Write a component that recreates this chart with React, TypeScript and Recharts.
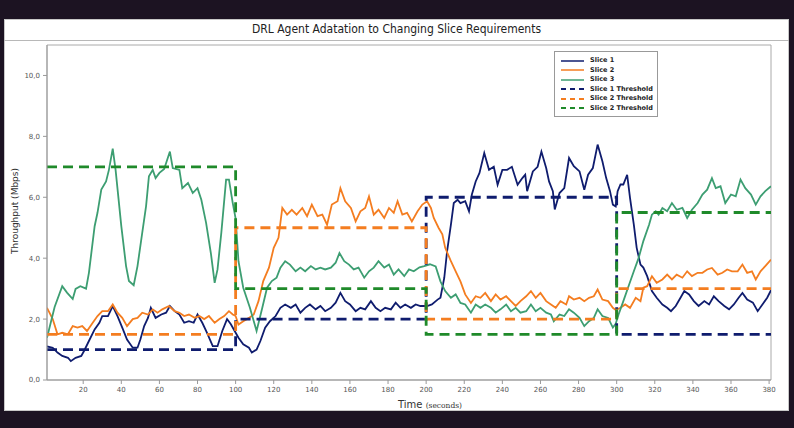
import React from 'react';
import { LineChart, Line, XAxis, YAxis, ReferenceArea } from 'recharts';

// [time (s), throughput (Mbps)]
const slice1: [number, number][] = [
  [1, 1.1], [4, 1.06], [6.5, 0.9], [9, 0.79], [12, 0.73], [13.5, 0.62], [16, 0.73], [19, 0.79], [20.5, 0.96],
  [23, 1.28], [26, 1.66], [28.5, 1.88], [30, 2.1], [33, 2.1], [35.5, 2.43], [38, 2.1], [40.5, 1.72], [43, 1.33],
  [46, 1.06], [48.5, 1.06], [50, 1.33], [52, 1.77], [54, 2.04], [55.5, 2.37], [58, 2.04], [61, 2.15], [63.5, 2.21],
  [65.5, 2.43], [68, 2.26], [70.5, 2.15], [73, 1.88], [75.5, 1.93], [78, 1.88], [80, 2.15], [82.5, 1.88], [85, 1.55],
  [88, 1.11], [90.5, 1.11], [93, 1.61], [95.5, 2.0], [97.5, 1.83], [99.5, 1.61], [101.5, 1.39], [104, 1.17],
  [107, 1.06], [108.5, 0.9], [111, 1.0], [113, 1.28], [115.5, 1.72], [118, 1.93], [121, 2.1], [123.5, 2.37],
  [126, 2.48], [129, 2.37], [131.5, 2.48], [134, 2.21], [136.5, 2.37], [139, 2.48], [142, 2.32], [144.5, 2.43],
  [147, 2.26], [150, 2.37], [152.5, 2.54], [155, 2.86], [157.5, 2.59], [160, 2.48], [163, 2.26], [165.5, 2.37],
  [168, 2.32], [171, 2.59], [173.5, 2.37], [176, 2.26], [178.5, 2.37], [181.5, 2.32], [184, 2.54], [186.5, 2.37],
  [189, 2.48], [192, 2.37], [194.5, 2.48], [197, 2.43], [200.5, 2.43], [203, 2.48], [206, 2.64], [207.5, 2.7],
  [209.5, 3.35], [211, 4.23], [213, 5.1], [214.5, 5.81], [216.5, 5.92], [218, 5.81], [220.5, 5.87], [222.5, 5.54],
  [224, 6.09], [226, 6.52], [228, 6.8], [230.5, 7.45], [233, 6.9], [235.5, 7.0], [237.5, 6.41], [240, 6.9],
  [242.5, 6.9], [245, 7.0], [248, 6.41], [250.5, 6.63], [252, 6.74], [253, 6.2], [256, 6.85], [258.5, 7.0],
  [260.5, 7.5], [263, 6.96], [264.5, 6.52], [266.5, 6.2], [267.5, 5.6], [270, 6.14], [272.5, 6.3], [275, 7.29],
  [277.5, 7.02], [280.5, 6.85], [283, 6.25], [285, 6.74], [287.5, 6.96], [290, 7.73], [292.5, 7.18], [294.5, 6.63],
  [296.5, 6.2], [298, 5.76], [299.5, 5.7], [300.5, 6.2], [302, 6.42], [303.5, 6.42], [305.5, 6.74], [307, 5.98],
  [309, 5.1], [310.5, 4.34], [312.5, 3.79], [314, 3.69], [316, 3.41], [318.5, 2.92], [321, 2.7], [324, 2.48],
  [326.5, 2.37], [328.5, 2.26], [331, 2.43], [333.5, 2.7], [335.5, 2.92], [338, 2.81], [340.5, 2.59], [343, 2.43],
  [346, 2.59], [348.5, 2.48], [351, 2.75], [353.5, 2.59], [356.5, 2.43], [359, 2.32], [361.5, 2.48], [364, 2.7],
  [366, 2.86], [368.5, 2.64], [371.5, 2.54], [374, 2.26], [376.5, 2.48], [379, 2.7], [381, 2.95],
];

const slice2: [number, number][] = [
  [1, 2.37], [4, 2.0], [6.5, 1.5], [9, 1.55], [12, 1.5], [14.5, 1.77], [17, 1.72], [19.5, 1.77], [22, 1.61],
  [25, 1.88], [27.5, 2.1], [30, 2.26], [33, 2.26], [35.5, 2.48], [38, 2.21], [40.5, 2.04], [43, 1.77], [46, 2.0],
  [48.5, 2.04], [51, 2.21], [54, 2.15], [56.5, 2.32], [59, 2.21], [61.5, 2.32], [65, 2.43], [68, 2.26], [70.5, 2.21],
  [73, 2.1], [75.5, 2.15], [78.5, 2.04], [81, 2.1], [83.5, 2.0], [86, 2.1], [89, 1.88], [91.5, 2.0], [94, 2.1],
  [96.5, 2.26], [98.5, 2.15], [100, 2.1], [101.5, 1.82], [104, 1.93], [107, 2.04], [109.5, 2.15], [112, 2.59],
  [114.5, 3.25], [117.5, 3.69], [120, 4.34], [122.5, 4.67], [124.5, 5.65], [127, 5.43], [129.5, 5.59], [132, 5.43],
  [135, 5.65], [137.5, 5.38], [140, 5.76], [143, 5.38], [145.5, 5.43], [148, 5.1], [150.5, 5.76], [153.5, 5.87],
  [155, 6.3], [157.5, 5.87], [160.5, 5.65], [163, 5.21], [165.5, 5.54], [168, 5.65], [170, 6.03], [172.5, 5.43],
  [175, 5.59], [178, 5.32], [180.5, 5.65], [183, 5.49], [185, 5.87], [187.5, 5.43], [190, 5.49], [192.5, 5.21],
  [195.5, 5.54], [198, 5.76], [200.5, 5.87], [202.5, 5.65], [204, 5.32], [206.5, 5.0], [208.5, 4.78], [210, 4.34],
  [213, 3.9], [215.5, 3.57], [218, 3.24], [220.5, 2.81], [223.5, 2.53], [226, 2.75], [228.5, 2.7], [231, 2.86],
  [234, 2.59], [236.5, 2.81], [239, 2.64], [242, 2.75], [244.5, 2.59], [247, 2.43], [249.5, 2.59], [252.5, 2.75],
  [255, 2.92], [257.5, 2.7], [260, 2.86], [263, 2.59], [265.5, 2.48], [268, 2.37], [270.5, 2.59], [273.5, 2.48],
  [275, 2.75], [277.5, 2.64], [280.5, 2.7], [283, 2.59], [285.5, 2.7], [288, 2.75], [290, 2.97], [292.5, 2.64],
  [295.5, 2.59], [298, 2.37], [299.5, 2.3], [302, 2.37], [304.5, 2.48], [307, 2.37], [310, 2.7], [312.5, 2.59],
  [314, 3.03], [316, 3.08], [318.5, 3.41], [321, 3.19], [324, 3.3], [326.5, 3.46], [329, 3.3], [331.5, 3.46],
  [334.5, 3.36], [337, 3.57], [339.5, 3.41], [342.5, 3.52], [345, 3.52], [347.5, 3.63], [350, 3.68], [353, 3.46],
  [355.5, 3.52], [358, 3.63], [360.5, 3.57], [363.5, 3.57], [366, 3.79], [368.5, 3.52], [371, 3.57], [373, 3.3],
  [375.5, 3.57], [378, 3.74], [381, 3.95],
];

const slice3: [number, number][] = [
  [1, 1.39], [5, 2.4], [9, 3.08], [11.5, 2.87], [14.5, 2.66], [16, 2.99], [18.5, 3.08], [21.5, 3.0], [23, 3.52],
  [26, 5.05], [27.5, 5.49], [29.5, 6.25], [32, 6.52], [33.5, 6.9], [35.5, 7.6], [37, 6.9], [40, 5.05], [42.5, 3.74],
  [44, 3.25], [46.5, 3.11], [48.5, 3.74], [51, 4.84], [53, 5.71], [54.5, 6.69], [56.5, 6.9], [58, 6.63], [60, 6.8],
  [62.5, 6.93], [65.5, 7.5], [67, 6.96], [70.5, 6.9], [72, 6.3], [75, 6.47], [77.5, 6.14], [80, 6.3], [82, 5.92],
  [84.5, 5.16], [87, 4.17], [89, 3.19], [90.5, 3.63], [92.5, 4.84], [95, 6.58], [96.5, 6.58], [98.5, 5.81],
  [100, 5.3], [101.5, 3.9], [104, 3.03], [107.5, 2.37], [111, 1.61], [114, 2.37], [116.5, 3.03], [119, 3.25],
  [121.5, 3.36], [123.5, 3.69], [126, 3.9], [128.5, 3.79], [131.5, 3.57], [134, 3.69], [136.5, 3.57], [139.5, 3.74],
  [142, 3.63], [144.5, 3.69], [147, 3.63], [150, 3.69], [152.5, 3.85], [154.5, 4.17], [157, 3.9], [159.5, 3.79],
  [162, 3.63], [164.5, 3.69], [167.5, 3.36], [170, 3.57], [172.5, 3.69], [175, 3.9], [178, 3.69], [180.5, 3.79],
  [183, 3.46], [185.5, 3.63], [188.5, 3.41], [191, 3.63], [193.5, 3.57], [196.5, 3.7], [199, 3.74], [202, 3.8],
  [205, 3.73], [207.5, 3.24], [210, 2.92], [213, 2.7], [215.5, 2.81], [218, 2.53], [220.5, 2.48], [223.5, 2.21],
  [226, 2.48], [228.5, 2.37], [231, 2.48], [234, 2.37], [236.5, 2.21], [239, 2.32], [242, 2.48], [244.5, 2.26],
  [247, 2.37], [249.5, 2.21], [252.5, 2.26], [255, 2.48], [257.5, 2.26], [260, 2.37], [263, 2.21], [265.5, 2.15],
  [267, 1.93], [270, 2.15], [272.5, 2.1], [275, 2.32], [277.5, 2.21], [280.5, 2.04], [283, 1.77], [285.5, 1.93],
  [288, 2.04], [290, 2.32], [292.5, 2.1], [295.5, 2.04], [298, 1.72], [299.5, 1.85], [301, 2.15], [303.5, 2.59],
  [306.5, 3.13], [309, 3.57], [311.5, 4.0], [314, 4.56], [317, 5.1], [318.5, 5.43], [320.5, 5.54], [322, 5.43],
  [324, 5.65], [326.5, 5.54], [329, 5.81], [331.5, 5.59], [334.5, 5.65], [337, 5.32], [339.5, 5.59], [342.5, 5.81],
  [345, 6.09], [347.5, 6.25], [350, 6.63], [352, 6.3], [354.5, 6.36], [357, 5.81], [360, 6.09], [362.5, 6.03],
  [365, 6.58], [367.5, 6.3], [370.5, 6.09], [373, 5.76], [375.5, 6.03], [378, 6.2], [381, 6.36],
];

const slice1Threshold: [number, number][] = [
  [1, 1], [100, 1], [100, 2], [200, 2], [200, 6], [300, 6], [300, 1.5], [381, 1.5],
];
const slice2Threshold: [number, number][] = [
  [1, 1.5], [100, 1.5], [100, 5], [200, 5], [200, 2], [300, 2], [300, 3], [381, 3],
];
const slice3Threshold: [number, number][] = [
  [1, 7], [100, 7], [100, 3], [200, 3], [200, 1.5], [300, 1.5], [300, 5.5], [381, 5.5],
];

const xTicks = [20, 40, 60, 80, 100, 120, 140, 160, 180, 200, 220, 240, 260, 280, 300, 320, 340, 360, 380];
const yTicks = [0, 2, 4, 6, 8, 10];

const NAVY = '#0f1c6e';
const ORANGE = '#f47d20';
const TEAL = '#3d9e72';
const GREEN = '#1f8a2a';

const series = [
  { name: 'Slice 1', points: slice1, color: NAVY, dashed: false },
  { name: 'Slice 2', points: slice2, color: ORANGE, dashed: false },
  { name: 'Slice 3', points: slice3, color: TEAL, dashed: false },
  { name: 'Slice 1 Threshold', points: slice1Threshold, color: NAVY, dashed: true },
  { name: 'Slice 2 Threshold', points: slice2Threshold, color: ORANGE, dashed: true },
  { name: 'Slice 2 Threshold', points: slice3Threshold, color: GREEN, dashed: true },
];

const toData = (arr: [number, number][]) => arr.map(([t, v]) => ({ t, v }));

const FONT = '"DejaVu Sans", sans-serif';

export default function App() {
  return (
    <div style={{ position: 'fixed', left: 0, top: 0, width: 794, height: 428, background: '#1c1322', overflow: 'hidden' }}>
      <div style={{ position: 'absolute', left: 4, top: 19, width: 785, height: 392, background: '#ffffff', boxSizing: 'border-box', border: '1px solid #c8c8c8' }} />
      <div
        style={{
          position: 'absolute', left: 4, top: 19, width: 785, height: 22, boxSizing: 'border-box',
          borderBottom: '1px solid #b8b8b8', textAlign: 'center', fontFamily: '"DejaVu Sans Condensed", "DejaVu Sans", sans-serif',
          fontSize: 12, lineHeight: '20px', color: '#222',
        }}
      >
        DRL Agent Adatation to Changing Slice Requirements
      </div>
      <div style={{ position: 'absolute', left: 0, top: 0 }}>
        <LineChart width={794} height={428} margin={{ top: 45, right: 23, bottom: 18, left: 7 }}>
          <XAxis
            type="number"
            dataKey="t"
            domain={[1, 381]}
            ticks={xTicks}
            allowDataOverflow
            height={30}
            tickSize={4}
            tickMargin={3}
            tick={{ fontSize: 7, fill: '#555', fontFamily: FONT }}
            stroke="#999"
            label={() => (
              <text x={430} y={408} textAnchor="middle" fill="#333">
                <tspan fontSize={10} fontFamily={FONT}>Time </tspan>
                <tspan fontSize={7.5} fontFamily='"DejaVu Serif", serif'>(seconds)</tspan>
              </text>
            )}
          />
          <YAxis
            type="number"
            domain={[0, 11]}
            ticks={yTicks}
            allowDataOverflow
            width={40}
            tickSize={4}
            tickMargin={3}
            tick={{ fontSize: 7, fill: '#555', fontFamily: FONT }}
            stroke="#999"
            tickFormatter={(v: number) => v.toFixed(1).replace('.', ',')}
            label={() => (
              <text x={18} y={211} transform="rotate(-90 18 211)" textAnchor="middle" fontSize={9} fill="#333" fontFamily={FONT}>
                Throughput (Mbps)
              </text>
            )}
          />
          <ReferenceArea x1={1} x2={381} y1={0} y2={11} fill="none" stroke="#aaa" strokeWidth={1} />
          {series.map((s, i) => (
            <Line
              key={i}
              data={toData(s.points)}
              dataKey="v"
              name={s.name}
              type="linear"
              stroke={s.color}
              strokeWidth={s.dashed ? 2.8 : 1.8}
              strokeDasharray={s.dashed ? '10 6' : undefined}
              dot={false}
              activeDot={false}
              isAnimationActive={false}
            />
          ))}
        </LineChart>
      </div>
      <div
        style={{
          position: 'absolute', left: 554, top: 51, width: 104, height: 66, boxSizing: 'border-box',
          background: '#fff', border: '1px solid #999', padding: '4px 0 0 6px',
        }}
      >
        {series.map((s, i) => (
          <div key={i} style={{ display: 'flex', alignItems: 'center', height: 9.5 }}>
            <svg width={24} height={6} style={{ display: 'block' }}>
              <line x1={0} y1={3} x2={23} y2={3} stroke={s.color} strokeWidth={s.dashed ? 2.2 : 1.5} strokeDasharray={s.dashed ? '5 4' : undefined} />
            </svg>
            <span style={{ marginLeft: 5, fontFamily: FONT, fontWeight: 'bold', fontSize: 6.5, color: '#222', whiteSpace: 'nowrap', lineHeight: '9px' }}>{s.name}</span>
          </div>
        ))}
      </div>
    </div>
  );
}
